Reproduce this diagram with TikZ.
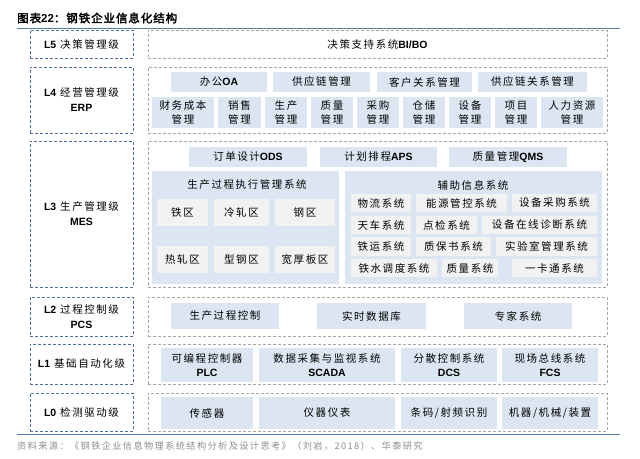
\documentclass[tikz,border=0pt]{standalone}
\usepackage{fontspec}
\usepackage{tikz}
\usetikzlibrary{positioning}
\setmainfont{Liberation Sans}
\newfontfamily\cjk[LetterSpace=15]{Noto Sans CJK SC}
\newfontfamily\cjkb[FakeBold=2.5,LetterSpace=8]{Noto Sans CJK SC}
\newfontfamily\latf{Liberation Sans}
\newcommand{\en}[1]{{\latf\bfseries #1}}
\definecolor{lvlblue}{HTML}{4E6E9B}
\definecolor{grpgray}{HTML}{A6A6A6}
\definecolor{itmblue}{HTML}{DCE6F2}
\definecolor{cellgray}{HTML}{F2F2F2}
\definecolor{rulblue}{HTML}{5A7CA8}
\definecolor{srcgray}{HTML}{8C8C8C}
\tikzset{
  % level tag on the left, dashed blue
  lvl/.style  = {draw=lvlblue, line width=1pt, dash pattern=on 3pt off 2pt,
                 inner sep=0pt, align=center, font=\cjk\fontsize{10.5}{15}\selectfont},
  % group frame on the right, dashed grey
  grp/.style  = {draw=grpgray, line width=0.8pt, dash pattern=on 3pt off 2pt,
                 inner sep=0pt, align=center, font=\cjk\fontsize{10.5}{13}\selectfont},
  itm/.style  = {fill=itmblue, inner sep=0pt, align=center,
                 font=\cjk\fontsize{10.5}{13.5}\selectfont},
  pane/.style = {fill=itmblue, inner sep=0pt},
  cell/.style = {fill=cellgray, inner sep=0pt, align=center,
                 font=\cjk\fontsize{10.5}{13}\selectfont},
  hdr/.style  = {inner sep=0pt, font=\cjk\fontsize{10.5}{13}\selectfont},
  rul/.style  = {draw=rulblue, line width=1pt},
}
% box from corner (x1,y1) to corner (x2,y2)
\newcommand{\bx}[7]{%
  \node[#1, minimum width={(#5-#3)*1pt}, minimum height={(#6-#4)*1pt}]
    (#2) at ({(#3+#5)/2},{(#4+#6)/2}) {#7};}

\begin{document}
\begin{tikzpicture}[x=1pt,y=-1pt]
\useasboundingbox (0,0) rectangle (640,458);
% title
\node[anchor=west, inner sep=0pt, font=\cjkb\fontsize{11.5}{13}\selectfont]
  (ttl) at (17,18) {图表\en{22}：钢铁企业信息化结构};
\draw[rul] (17,28) -- (620,28);
% L5
\bx{lvl}{l5}{30}{30}{133}{58}{\en{L5} 决策管理级}
\bx{grp}{g5}{148}{30}{607}{58}{决策支持系统\en{BI/BO}}
% L4
\bx{lvl}{l4}{30}{67}{133}{133}{\en{L4} 经营管理级\\\en{ERP}}
\bx{grp}{g4}{148}{67}{607}{133}{}
\bx{itm}{oa}{171}{72}{267}{92}{办公\en{OA}}
\bx{itm}{scm}{273}{72}{370}{92}{供应链管理}
\bx{itm}{crm}{377}{72}{472}{92}{客户关系管理}
\bx{itm}{srm}{478}{72}{587}{92}{供应链关系管理}
\bx{itm}{fin}{152}{97}{214}{128}{财务成本\\管理}
\bx{itm}{sal}{218}{97}{261}{128}{销售\\管理}
\bx{itm}{prd}{265}{97}{307}{128}{生产\\管理}
\bx{itm}{qua}{311}{97}{353}{128}{质量\\管理}
\bx{itm}{pur}{357}{97}{399}{128}{采购\\管理}
\bx{itm}{sto}{403}{97}{445}{128}{仓储\\管理}
\bx{itm}{equ}{449}{97}{491}{128}{设备\\管理}
\bx{itm}{prj}{495}{97}{537}{128}{项目\\管理}
\bx{itm}{hrm}{541}{97}{603}{128}{人力资源\\管理}
% L3
\bx{lvl}{l3}{30}{141}{133}{287}{\en{L3} 生产管理级\\\en{MES}}
\bx{grp}{g3}{148}{141}{607}{287}{}
\bx{itm}{ods}{189}{147}{307}{167}{订单设计\en{ODS}}
\bx{itm}{aps}{320}{147}{437}{167}{计划排程\en{APS}}
\bx{itm}{qms}{449}{147}{567}{167}{质量管理\en{QMS}}
\bx{pane}{mes}{152}{171}{339}{284}{}
\node[hdr] (mest) at (247,185) {生产过程执行管理系统};
\bx{cell}{iron}{157}{199}{208}{226}{铁区}
\bx{cell}{cold}{214}{199}{269}{226}{冷轧区}
\bx{cell}{stl}{275}{199}{335}{226}{钢区}
\bx{cell}{hot}{157}{246}{208}{273}{热轧区}
\bx{cell}{sec}{214}{246}{269}{273}{型钢区}
\bx{cell}{plt}{275}{246}{335}{273}{宽厚板区}
\bx{pane}{aux}{345}{171}{602}{284}{}
\node[hdr] (auxt) at (473,185) {辅助信息系统};
\bx{cell}{a11}{351}{194}{411}{212}{物流系统}
\bx{cell}{a12}{416}{194}{507}{212}{能源管控系统}
\bx{cell}{a13}{512}{194}{597}{212}{设备采购系统}
\bx{cell}{a21}{351}{216}{411}{234}{天车系统}
\bx{cell}{a22}{416}{216}{477}{234}{点检系统}
\bx{cell}{a23}{482}{216}{597}{234}{设备在线诊断系统}
\bx{cell}{a31}{351}{237}{411}{256}{铁运系统}
\bx{cell}{a32}{416}{237}{491}{256}{质保书系统}
\bx{cell}{a33}{496}{237}{597}{256}{实验室管理系统}
\bx{cell}{a41}{351}{259}{437}{277}{铁水调度系统}
\bx{cell}{a42}{442}{259}{498}{277}{质量系统}
\bx{cell}{a43}{512}{259}{597}{277}{一卡通系统}
% L2
\bx{lvl}{l2}{30}{297}{133}{336}{\en{L2} 过程控制级\\\en{PCS}}
\bx{grp}{g2}{148}{297}{607}{336}{}
\bx{itm}{pcc}{171}{303}{279}{329}{生产过程控制}
\bx{itm}{rtd}{317}{303}{426}{329}{实时数据库}
\bx{itm}{exp}{464}{303}{572}{329}{专家系统}
% L1
\bx{lvl}{l1}{30}{344}{133}{384}{\en{L1} 基础自动化级}
\bx{grp}{g1}{148}{344}{607}{384}{}
\bx{itm}{plc}{161}{348}{253}{382}{可编程控制器\\\en{PLC}}
\bx{itm}{scd}{259}{348}{395}{382}{数据采集与监视系统\\\en{SCADA}}
\bx{itm}{dcs}{401}{348}{497}{382}{分散控制系统\\\en{DCS}}
\bx{itm}{fcs}{502}{348}{598}{382}{现场总线系统\\\en{FCS}}
% L0
\bx{lvl}{l0}{30}{393}{133}{431}{\en{L0} 检测驱动级}
\bx{grp}{g0}{148}{393}{607}{431}{}
\bx{itm}{sen}{161}{397}{253}{429}{传感器}
\bx{itm}{ins}{259}{397}{395}{429}{仪器仪表}
\bx{itm}{rfd}{401}{397}{497}{429}{条码/射频识别}
\bx{itm}{mac}{502}{397}{598}{429}{机器/机械/装置}
% source
\draw[rul] (17,434) -- (620,434);
\node[anchor=west, inner sep=0pt, text=srcgray, font=\cjk\fontsize{9.2}{11}\selectfont]
  (src) at (17,446) {资料来源：《钢铁企业信息物理系统结构分析及设计思考》（刘岩，2018）、华泰研究};
\end{tikzpicture}
\end{document}
